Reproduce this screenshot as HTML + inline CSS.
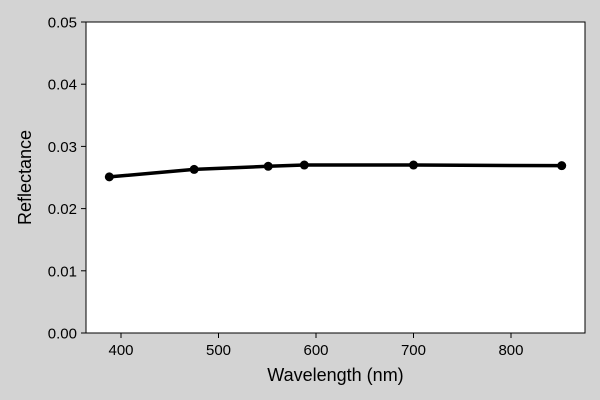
<!DOCTYPE html>
<html><head><meta charset="utf-8"><style>
body{margin:0;background:#d3d3d3;}
svg{display:block;font-family:"Liberation Sans",sans-serif;}
</style></head><body>
<svg id="chart" width="600" height="400">
<rect x="0" y="0" width="600" height="400" fill="#d3d3d3"/>
<rect x="86" y="22" width="499" height="311" fill="#fff" stroke="#000" stroke-width="1"/>
<g id="xticks"></g>
<g id="yticks"></g>
<g id="series"></g>
<text x="335.5" y="381" font-size="18" text-anchor="middle">Wavelength (nm)</text>
<text x="0" y="0" font-size="18" text-anchor="middle" transform="translate(31,177.5) rotate(-90)">Reflectance</text>
</svg>
<script>
const wavelengths=[388,475,551,588,700,852];
const reflectance=[0.0251,0.0263,0.0268,0.0270,0.0270,0.0269];
const xTickValues=[400,500,600,700,800];
const yTickValues=[0,0.01,0.02,0.03,0.04,0.05];
const yTickLabels=["0.00","0.01","0.02","0.03","0.04","0.05"];
const NS="http://www.w3.org/2000/svg";
const L=86,R=585,T=22,B=333,xMin=364.1,xMax=875.9,yMin=0,yMax=0.05;
const sx=v=>L+(v-xMin)/(xMax-xMin)*(R-L);
const sy=v=>B-(v-yMin)/(yMax-yMin)*(B-T);
function mk(tag,attrs,parent){const e=document.createElementNS(NS,tag);for(const k in attrs)e.setAttribute(k,attrs[k]);parent.appendChild(e);return e;}
const xg=document.getElementById('xticks'),yg=document.getElementById('yticks'),sg=document.getElementById('series');
xTickValues.forEach(v=>{
 const t=mk('line',{x1:sx(v),x2:sx(v),y1:B,y2:B+5,stroke:'#000'},xg);
 
 
 const l=mk('text',{x:sx(v),y:B+22,'font-size':15,'text-anchor':'middle'},xg);
 l.textContent=v;
 
 
});
yTickValues.forEach((v,i)=>{
 const t=mk('line',{x1:L-5,x2:L,y1:sy(v),y2:sy(v),stroke:'#000'},yg);
 
 
 const l=mk('text',{x:L-9,y:sy(v)+5.5,'font-size':15,'text-anchor':'end'},yg);
 l.textContent=yTickLabels[i];
 
 
});
const pts=wavelengths.map((w,i)=>sx(w)+','+sy(reflectance[i])).join(' ');
const line=mk('polyline',{points:pts,fill:'none',stroke:'#000','stroke-width':3.5,'stroke-linejoin':'round'},sg);


wavelengths.forEach((w,i)=>{
 const c=mk('circle',{cx:sx(w),cy:sy(reflectance[i]),r:4.5,fill:'#000'},sg);
 
 
});
</script>
</body></html>
